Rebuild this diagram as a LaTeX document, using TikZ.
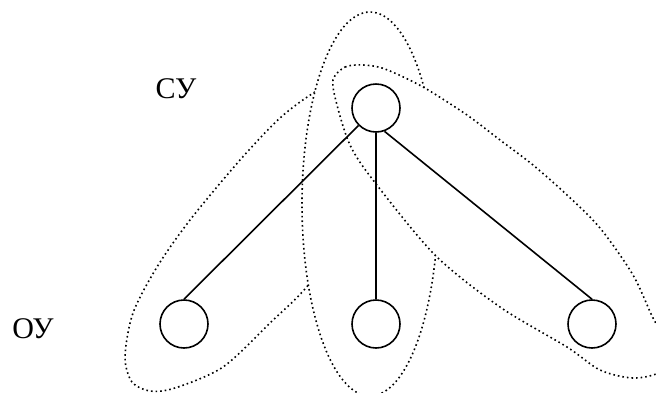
\documentclass[tikz,border=0pt]{standalone}
\usepackage{fontspec}
\setmainfont{Liberation Serif}

\begin{document}
\begin{tikzpicture}[x=1pt,y=-1pt,
  uzel/.style={draw,circle,line width=1.6pt,minimum size=48pt,inner sep=0pt},
  grupa/.style={line width=1.6pt,dash pattern=on 1.6pt off 3pt,fill=white},
  metka/.style={font=\fontsize{30}{36}\selectfont,inner sep=0pt}]
\useasboundingbox (0,0) rectangle (656,392);
\clip (0,0) rectangle (656,392);
% dotted groups, left one lies under the middle one
\draw[grupa] plot[smooth cycle] coordinates {(350,76) (315,92) (280,118) (240,160)
  (190,220) (157,267) (133,313) (125,357) (132,382) (150,391) (175,388) (223,367)
  (270,323) (309,284) (340,230) (368,150) (375,82)};
\draw[grupa] (370,204) ellipse [x radius=68, y radius=192];
\draw[grupa] plot[smooth cycle] coordinates {(333,80) (345,67) (363,65) (385,69)
  (423,87) (467,115) (500,140) (533,165) (567,195) (600,228) (633,275) (653,318)
  (672,352) (660,372) (633,378) (600,370) (567,347) (500,307) (435,255) (373,180)
  (350,145) (337,105)};
% nodes
\node[uzel] (sy) at (376,108) {};
\node[uzel] (o1) at (184,324) {};
\node[uzel] (o2) at (376,324) {};
\node[uzel] (o3) at (592,324) {};
\node[metka] (lsu) at (176,89) {СУ};
\node[metka] (lou) at (33,329) {ОУ};
% links
\draw[line width=1.6pt] (sy) -- (o1.north);
\draw[line width=1.6pt] (sy.south) -- (o2.north);
\draw[line width=1.6pt] (sy.-70) -- (o3.north);
\end{tikzpicture}
\end{document}
